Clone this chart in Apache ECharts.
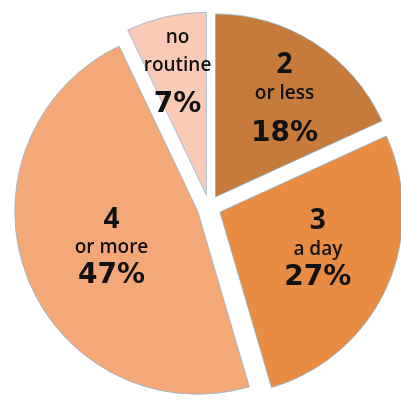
<!DOCTYPE html>
<html>
<head>
<meta charset="utf-8">
<script src="https://cdn.jsdelivr.net/npm/echarts@6/dist/echarts.min.js"></script>
<style>
html,body{margin:0;padding:0;background:#fff;}
#c{width:401px;height:408px;}
</style>
</head>
<body>
<div id="c"></div>
<script>
// Data
var categories = ['2 or less', '3 a day', '4 or more', 'no routine'];
var values = [18, 27, 47, 7];

// Styles (kept separate from data)
var colors = ['#c67a3c', '#e98c43', '#f5a877', '#f9cab5'];
var labelNudge = [[18, -12], [12, -2], [2, 3], [-8, -26]];
var pctLineHeight = [52, 28, 28, 52];

var chart = echarts.init(document.getElementById('c'));
var data = categories.map(function (name, i) {
  return {
    name: name,
    value: values[i],
    selected: true,
    itemStyle: { color: colors[i] },
    label: { rich: { p: { fontFamily: 'DejaVu Sans', fontWeight: 'bold', fontSize: 28, color: '#111', lineHeight: pctLineHeight[i] } } }
  };
});

chart.setOption({
  animation: false,
  series: [{
    type: 'pie',
    center: [209, 207],
    radius: [0, 183],
    startAngle: 90,
    clockwise: true,
    selectedMode: 'multiple',
    selectedOffset: 12,
    avoidLabelOverlap: false,
    itemStyle: { borderColor: 'rgba(140,180,205,0.75)', borderWidth: 1 },
    emphasis: { disabled: true },
    label: {
      show: true,
      position: 'inside',
      align: 'center',
      formatter: function (p) {
        var idx = p.name.indexOf(' ');
        var first = p.name.slice(0, idx);
        var rest = p.name.slice(idx + 1);
        var firstStyle = isNaN(Number(first)) ? 's' : 'n';
        return '{' + firstStyle + '|' + first + '}\n{s|' + rest + '}\n{p|' + p.value + '%}';
      },
      rich: {
        n: { fontFamily: 'Open Sans', fontWeight: 'bold', fontSize: 28, color: '#111', lineHeight: 28 },
        s: { fontFamily: 'Open Sans', fontWeight: 600, fontSize: 19, color: '#111', lineHeight: 28 },
        p: { fontFamily: 'DejaVu Sans', fontWeight: 'bold', fontSize: 28, color: '#111', lineHeight: 28 }
      }
    },
    labelLayout: function (params) {
      var n = labelNudge[params.dataIndex];
      return { dx: n[0], dy: n[1] };
    },
    data: data
  }]
});
</script>
</body>
</html>
